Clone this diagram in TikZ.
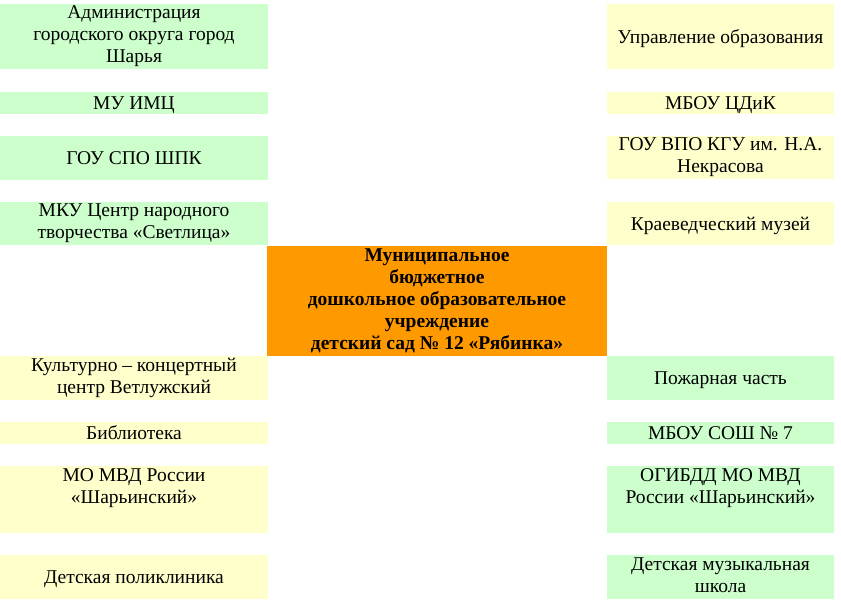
\documentclass[tikz,border=0pt]{standalone}
\usepackage{fontspec}
\setmainfont{Liberation Serif}
\definecolor{bgreen}{HTML}{CCFFCC}
\definecolor{byellow}{HTML}{FFFFCC}
\definecolor{borange}{HTML}{FF9900}
\newcommand\linestrut{\rule[-4.4pt]{0pt}{22pt}}
\begin{document}
\begin{tikzpicture}[x=1pt,y=-1pt,
  box/.style={rectangle,inner sep=0pt,align=center,execute at begin node=\linestrut,execute at end node=\linestrut,font=\fontsize{19.5}{22}\selectfont,text=black},
  lbox/.style={box,minimum width=268pt},
  rbox/.style={box,minimum width=227pt},
  gbox/.style={fill=bgreen},
  ybox/.style={fill=byellow},
  cbox/.style={box,fill=borange,minimum width=340pt,minimum height=110pt,font=\fontsize{19.5}{22}\selectfont\bfseries}]
\useasboundingbox (0,0) rectangle (841,605);
% left column
\node[lbox,gbox,minimum height=65pt] (l1) at (134,36.5) {Администрация\\городского округа город\\Шарья};
\node[lbox,gbox,minimum height=20.5pt] (l2) at (134,102.75) {МУ ИМЦ};
\node[lbox,gbox,minimum height=44pt] (l3) at (134,157.5) {ГОУ СПО ШПК};
\node[lbox,gbox,minimum height=43pt] (l4) at (134,223.5) {МКУ Центр народного\\творчества «Светлица»};
\node[lbox,ybox,minimum height=44pt] (l5) at (134,378) {Культурно – концертный\\центр Ветлужский};
\node[lbox,ybox,minimum height=22pt] (l6) at (134,433) {Библиотека};
\node[lbox,ybox,minimum height=67pt] (l7) at (134,499.5) {МО МВД России\\«Шарьинский»\\};
\node[lbox,ybox,minimum height=44pt] (l8) at (134,577) {Детская поликлиника};
% right column
\node[rbox,ybox,minimum height=65pt] (r1) at (720.5,36.5) {Управление образования};
\node[rbox,ybox,minimum height=21pt] (r2) at (720.5,102.5) {МБОУ ЦДиК};
\node[rbox,ybox,minimum height=43pt] (r3) at (720.5,157.5) {ГОУ ВПО КГУ им. Н.А.\\Некрасова};
\node[rbox,ybox,minimum height=43pt] (r4) at (720.5,223.5) {Краеведческий музей};
\node[rbox,gbox,minimum height=44pt] (r5) at (720.5,378) {Пожарная часть};
\node[rbox,gbox,minimum height=22pt] (r6) at (720.5,433) {МБОУ СОШ № 7};
\node[rbox,gbox,minimum height=67pt] (r7) at (720.5,499.5) {ОГИБДД МО МВД\\России «Шарьинский»\\};
\node[rbox,gbox,minimum height=44pt] (r8) at (720.5,577) {Детская музыкальная\\школа};
% centre
\node[cbox] (c) at (437,301) {Муниципальное\\бюджетное\\дошкольное образовательное\\учреждение\\детский сад № 12 «Рябинка»};
\end{tikzpicture}
\end{document}
